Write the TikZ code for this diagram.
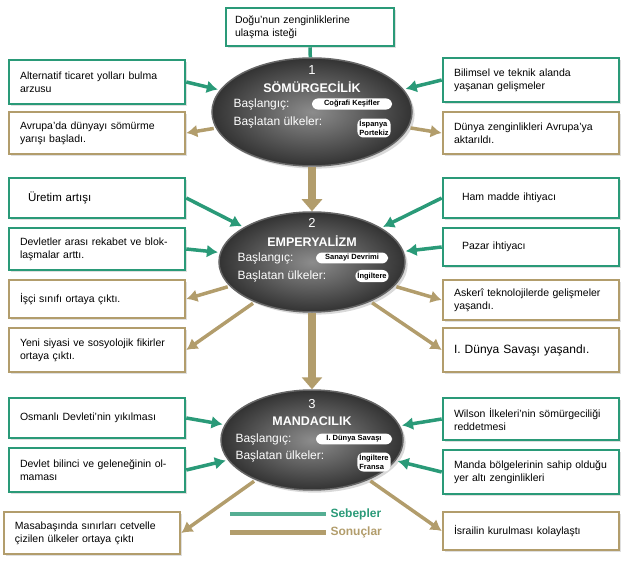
\documentclass[tikz,border=0pt]{standalone}
\usepackage{fontspec}
\setmainfont{Liberation Sans}
\usetikzlibrary{shapes.geometric,arrows.meta,shadows}
\definecolor{gr}{HTML}{2A9A78}
\definecolor{tn}{HTML}{B29D6C}
\tikzset{
 bx/.style={draw=#1,line width=2.6pt,fill=white,minimum width=176pt,text width=154pt,align=left,font=\fontsize{10.5}{13}\selectfont,drop shadow={opacity=0.25,shadow xshift=2pt,shadow yshift=-2pt}},
 gbox/.style={bx=gr},
 tbox/.style={bx=tn},
 ell/.style={ellipse,draw=black!60,line width=1.5pt,inner color=black!45,outer color=black!80,drop shadow={opacity=0.3}},
 garr/.style={draw=gr,line width=3.5pt,-{Latex[length=11pt,width=13pt]},shorten >=2pt},
 tarr/.style={draw=tn,line width=3.5pt,-{Latex[length=11pt,width=13pt]},shorten <=2pt},
 darr/.style={draw=tn,line width=8pt,-{Triangle[length=12pt,width=20pt]}},
 ttl/.style={text=white,font=\bfseries\fontsize{12.5}{13}\selectfont},
 num/.style={text=white,font=\fontsize{13}{13}\selectfont},
 lab/.style={text=white,font=\fontsize{12}{13}\selectfont,anchor=west},
 pill/.style={fill=white,rounded corners=6pt,font=\bfseries\fontsize{7.5}{8.5}\selectfont,align=left,inner sep=2pt}
}
\begin{document}
\begin{tikzpicture}[x=1pt,y=-1pt]
\useasboundingbox (0,0) rectangle (627,567);
% ellipses
\node[ell,minimum width=200pt,minimum height=108pt] (e1) at (312,112) {};
\node[ell,minimum width=186pt,minimum height=100pt] (e2) at (312,262) {};
\node[ell,minimum width=182pt,minimum height=100pt] (e3) at (312,440) {};
% ellipse texts
\node[num] (n1) at (312,70) {1};
\node[ttl] (t1) at (312,87) {SÖMÜRGECİLİK};
\node[lab] (b1) at (230,104) {Başlangıç:};
\node[pill,minimum width=80pt] (p1) at (352,104) {Coğrafi Keşifler};
\node[lab] (s1) at (230,122) {Başlatan ülkeler:};
\node[pill] (q1) at (374,128) {İspanya\\Portekiz};
\node[num] (n2) at (312,223) {2};
\node[ttl] (t2) at (312,241) {EMPERYALİZM};
\node[lab] (b2) at (234,258) {Başlangıç:};
\node[pill,minimum width=72pt] (p2) at (352,258) {Sanayi Devrimi};
\node[lab] (s2) at (234,276) {Başlatan ülkeler:};
\node[pill] (q2) at (372,276) {İngiltere};
\node[num] (n3) at (312,404) {3};
\node[ttl] (t3) at (312,421) {MANDACILIK};
\node[lab] (b3) at (232,439) {Başlangıç:};
\node[pill,minimum width=76pt] (p3) at (354,439) {I. Dünya Savaşı};
\node[lab] (s3) at (232,456) {Başlatan ülkeler:};
\node[pill] (q3) at (374,462) {İngiltere\\Fransa};
% top box
\node[gbox,minimum width=168pt,text width=150pt,minimum height=38pt] (top) at (310,27) {Doğu'nun zenginliklerine\\ulaşma isteği};
% row 1
\node[gbox,minimum height=44pt] (a1) at (97,82) {Alternatif ticaret yolları bulma arzusu};
\node[tbox,minimum height=42pt] (a2) at (97,133) {Avrupa'da dünyayı sömürme yarışı başladı.};
\node[gbox,minimum height=44pt] (a3) at (531,80) {Bilimsel ve teknik alanda yaşanan gelişmeler};
\node[tbox,minimum height=42pt] (a4) at (531,133) {Dünya zenginlikleri Avrupa'ya aktarıldı.};
% row 2
\node[gbox,minimum height=40pt,font=\fontsize{11.5}{13}\selectfont] (c1) at (97,198) {\hspace{8pt}Üretim artışı};
\node[gbox,minimum height=42pt] (c2) at (97,249) {Devletler arası rekabet ve bloklaşmalar arttı.};
\node[tbox,minimum height=38pt] (c3) at (97,299) {İşçi sınıfı ortaya çıktı.};
\node[tbox,minimum height=44pt] (c4) at (97,350) {Yeni siyasi ve sosyolojik fikirler ortaya çıktı.};
\node[gbox,minimum height=40pt] (d1) at (531,198) {\hspace{8pt}Ham madde ihtiyacı};
\node[gbox,minimum height=38pt] (d2) at (531,247) {\hspace{8pt}Pazar ihtiyacı};
\node[tbox,minimum height=40pt] (d3) at (531,300) {Askerî teknolojilerde gelişmeler yaşandı.};
\node[tbox,minimum height=44pt,font=\fontsize{12}{13}\selectfont] (d4) at (531,350) {I. Dünya Savaşı yaşandı.};
% row 3
\node[gbox,minimum height=40pt] (f1) at (97,418) {Osmanlı Devleti'nin yıkılması};
\node[gbox,minimum height=44pt] (f2) at (97,470) {Devlet bilinci ve geleneğinin olmaması};
\node[tbox,minimum height=42pt] (f3) at (92,533) {Masabaşında sınırları cetvelle çizilen ülkeler ortaya çıktı};
\node[gbox,minimum height=42pt] (g1) at (531,419) {Wilson İlkeleri'nin sömürgeciliği reddetmesi};
\node[gbox,minimum height=44pt] (g2) at (531,472) {Manda bölgelerinin sahip olduğu yer altı zenginlikleri};
\node[tbox,minimum height=38pt] (g3) at (531,531) {İsrailin kurulması kolaylaştı};
% connectors
\draw[draw=gr,line width=3.5pt] (top.south) -- (e1);
\draw[garr] (a1.east) -- (e1);
\draw[garr] (a3.west) -- (e1);
\draw[tarr] (e1) -- (a2.east);
\draw[tarr] (e1) -- (a4.west);
\draw[garr] (c1.east) -- (e2);
\draw[garr] (c2.east) -- (e2);
\draw[garr] (d1.west) -- (e2);
\draw[garr] (d2.west) -- (e2);
\draw[tarr] (e2) -- (c3.east);
\draw[tarr] (e2) -- (c4.east);
\draw[tarr] (e2) -- (d3.west);
\draw[tarr] (e2) -- (d4.west);
\draw[garr] (f1.east) -- (e3);
\draw[garr] (f2.east) -- (e3);
\draw[garr] (g1.west) -- (e3);
\draw[garr] (g2.west) -- (e3);
\draw[tarr] (e3) -- (f3.east);
\draw[tarr] (e3) -- (g3.west);
\draw[darr] (e1.south) -- (e2.north);
\draw[darr] (e2.south) -- (e3.north);
% legend
\coordinate (l1a) at (230,514); \coordinate (l1b) at (326,514);
\coordinate (l2a) at (230,532); \coordinate (l2b) at (326,532);
\draw[gr!80,line width=4pt] (l1a) -- (l1b);
\draw[tn,line width=5pt] (l2a) -- (l2b);
\node[anchor=west,text=gr,font=\bfseries\fontsize{12}{13}\selectfont] (sb) at (327,514) {Sebepler};
\node[anchor=west,text=tn,font=\bfseries\fontsize{12}{13}\selectfont] (sn) at (327,532) {Sonuçlar};
\end{tikzpicture}
\end{document}
